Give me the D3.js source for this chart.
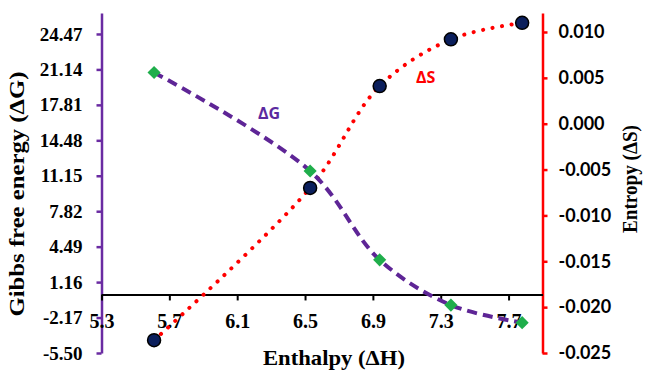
<!DOCTYPE html>
<html lang="en">
    <head>
        <meta charset="utf-8">
        <title>Enthalpy vs Gibbs free energy and Entropy</title>
        <script src="https://d3js.org/d3.v7.min.js"></script>
        <style>
            body { margin: 0; background: #fff; }
            .serif { font-family: "Liberation Serif", "Times New Roman", serif; font-weight: bold; }
        </style>
    </head>
    <body>
        <script>
            // data
            const enthalpy = [5.61, 6.53, 6.94, 7.36, 7.78];
            const gibbs = [20.85, 11.6, 3.25, -1.0, -2.65];
            const entropy = [-0.0236, -0.0070, 0.0041, 0.0092, 0.0110];

            const xTicks = [5.3, 5.7, 6.1, 6.5, 6.9, 7.3, 7.7];
            const gTicks = [-5.50, -2.17, 1.16, 4.49, 7.82, 11.15, 14.48, 17.81, 21.14, 24.47];
            const sTicks = [-0.025, -0.020, -0.015, -0.010, -0.005, 0.000, 0.005, 0.010];

            const seriesLabels = [
                { text: 'ΔG', x: 6.222, y: 16.48, axis: 'g', color: '#5b2aa0' },
                { text: 'ΔS', x: 7.154, y: 0.0044, axis: 's', color: '#ff0000' }
            ];

            const w = 645;
            const h = 373;
            const purple = '#6a2ba2';
            const red = '#ff0000';

            const svg = d3.select('body')
                          .append('svg')
                          .attr('width', w)
                          .attr('height', h)

            const x = d3.scaleLinear()
                        .domain([5.3, 7.9])
                        .range([101.5, 542.5])
            const yG = d3.scaleLinear()
                         .domain([-5.5, 26.44])
                         .range([353, 13])
            const yS = d3.scaleLinear()
                         .domain([-0.025, 0.01207])
                         .range([353, 13])

            // left axis (Gibbs)
            const gAxis = svg.append('g')
                             .attr('transform', 'translate(' + x.range()[0] + ',0)')
                             .call(d3.axisLeft(yG)
                                     .tickValues(gTicks)
                                     .tickSize(5)
                                     .tickSizeOuter(0)
                                     .tickPadding(14))
            gAxis.select('.domain').attr('stroke', purple).attr('stroke-width', 2.5)
            gAxis.selectAll('line').attr('stroke', purple).attr('stroke-width', 2.5)
            gAxis.selectAll('text')
                 .attr('class', 'serif')
                 .attr('font-size', 19)
                 .attr('fill', '#000')
                 .text(d => d3.format('.2f')(d).replace('−', '-'))

            // right axis (Entropy)
            const sAxis = svg.append('g')
                             .attr('transform', 'translate(' + x.range()[1] + ',0)')
                             .call(d3.axisRight(yS)
                                     .tickValues(sTicks)
                                     .tickSize(5)
                                     .tickSizeOuter(0)
                                     .tickPadding(11))
            sAxis.select('.domain').attr('stroke', red).attr('stroke-width', 2.5)
            sAxis.selectAll('line').attr('stroke', red).attr('stroke-width', 2.5)
            sAxis.selectAll('text')
                 .attr('font-family', 'Lato, "Open Sans", sans-serif')
                 .attr('font-weight', 'bold')
                 .attr('font-size', 18)
                 .attr('fill', '#000')
                 .text(d => d3.format('.3f')(d).replace('−', '-'))

            // x axis crosses at G = 0
            const xAxis = svg.append('g')
                             .attr('transform', 'translate(0,' + yG(0) + ')')
                             .call(d3.axisBottom(x)
                                     .tickValues(xTicks)
                                     .tickFormat(d3.format('.1f'))
                                     .tickSize(6)
                                     .tickSizeOuter(0)
                                     .tickPadding(13))
            xAxis.select('.domain').attr('stroke', '#000').attr('stroke-width', 2)
            xAxis.selectAll('line').attr('stroke', '#000').attr('stroke-width', 2)
            xAxis.selectAll('text')
                 .attr('class', 'serif')
                 .attr('font-size', 20)
                 .attr('fill', '#000')

            // lines
            const gData = enthalpy.map((d, i) => [d, gibbs[i]]);
            const sData = enthalpy.map((d, i) => [d, entropy[i]]);

            const gLine = d3.line()
                            .x(d => x(d[0]))
                            .y(d => yG(d[1]))
                            .curve(d3.curveCatmullRom.alpha(0.5))
            const sLine = d3.line()
                            .x(d => x(d[0]))
                            .y(d => yS(d[1]))
                            .curve(d3.curveCatmullRom.alpha(0.5))

            svg.append('path')
               .attr('d', sLine(sData))
               .attr('fill', 'none')
               .attr('stroke', red)
               .attr('stroke-width', 4)
               .attr('stroke-linecap', 'round')
               .attr('stroke-dasharray', '0.1 9.5')

            svg.selectAll('circle.s')
               .data(sData)
               .enter()
               .append('circle')
               .attr('class', 's')
               .attr('cx', d => x(d[0]))
               .attr('cy', d => yS(d[1]))
               .attr('r', 6.5)
               .attr('fill', '#0b1f5c')
               .attr('stroke', '#000')
               .attr('stroke-width', 1.5)

            svg.append('path')
               .attr('d', gLine(gData))
               .attr('fill', 'none')
               .attr('stroke', '#5e2596')
               .attr('stroke-width', 4)
               .attr('stroke-dasharray', '10 6')

            svg.selectAll('path.diamond')
               .data(gData)
               .enter()
               .append('path')
               .attr('class', 'diamond')
               .attr('d', d3.symbol().type(d3.symbolDiamond2).size(110))
               .attr('transform', d => 'translate(' + x(d[0]) + ',' + yG(d[1]) + ')')
               .attr('fill', '#1fae4b')

            // series labels
            svg.selectAll('text.series')
               .data(seriesLabels)
               .enter()
               .append('text')
               .attr('class', 'series')
               .attr('x', d => x(d.x))
               .attr('y', d => d.axis === 'g' ? yG(d.y) : yS(d.y))
               .attr('font-family', '"Open Sans", "Noto Sans", sans-serif')
               .attr('font-weight', 'bold')
               .attr('font-size', 16)
               .attr('fill', d => d.color)
               .text(d => d.text)

            // axis titles
            svg.append('text')
               .attr('class', 'serif')
               .attr('transform', 'translate(24,' + 194 + ') rotate(-90)')
               .attr('text-anchor', 'middle')
               .attr('font-size', 22)
               .attr('textLength', 245)
               .attr('lengthAdjust', 'spacingAndGlyphs')
               .text('Gibbs free energy (ΔG)')

            svg.append('text')
               .attr('class', 'serif')
               .attr('transform', 'translate(637,' + 179 + ') rotate(-90)')
               .attr('text-anchor', 'middle')
               .attr('font-size', 20)
               .attr('textLength', 108)
               .attr('lengthAdjust', 'spacingAndGlyphs')
               .text('Entropy (ΔS)')

            svg.append('text')
               .attr('class', 'serif')
               .attr('x', 334)
               .attr('y', 365)
               .attr('text-anchor', 'middle')
               .attr('font-size', 22)
               .attr('textLength', 142)
               .attr('lengthAdjust', 'spacingAndGlyphs')
               .text('Enthalpy (ΔH)')
        </script>
    </body>
</html>
